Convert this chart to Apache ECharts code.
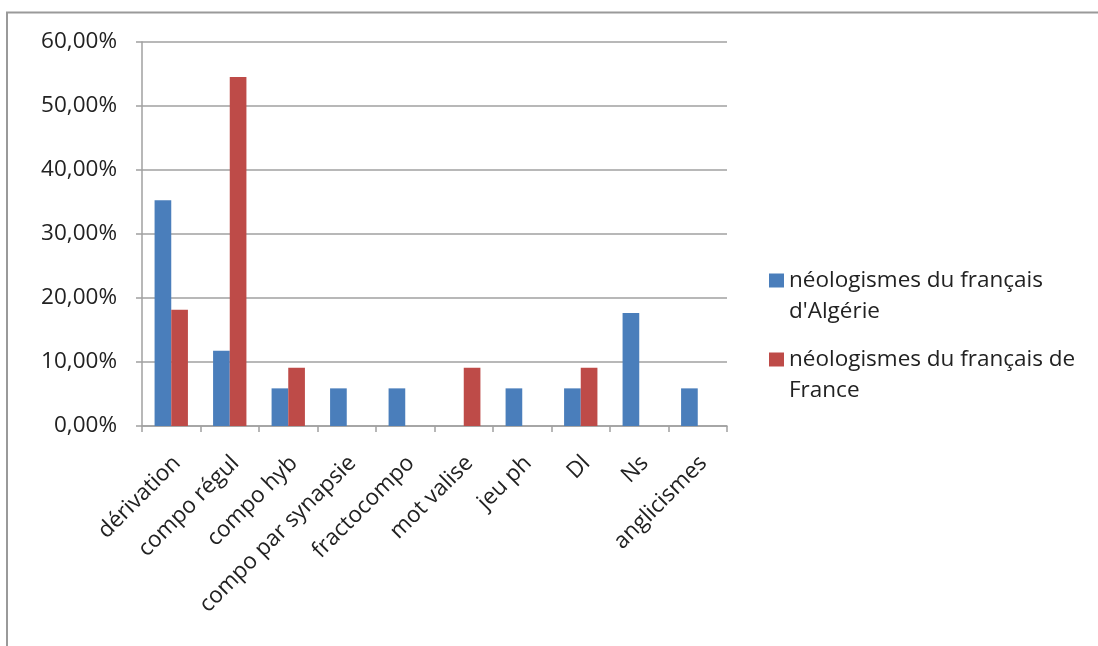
<!DOCTYPE html>
<html>
<head>
<meta charset="utf-8">
<style>
  html, body { margin: 0; padding: 0; background: #ffffff; }
  #chart { width: 1098px; height: 646px; }
</style>
<script src="https://cdn.jsdelivr.net/npm/echarts@6/dist/echarts.min.js"></script>
</head>
<body>
<div id="chart"></div>
<script>
// Procédés de formation des néologismes (part de chaque procédé, en %)
const categories = [
  'dérivation', 'compo régul', 'compo hyb', 'compo par synapsie', 'fractocompo',
  'mot valise', 'jeu ph', 'Dl', 'Ns', 'anglicismes'
];
const algerieValues = [35.29, 11.76, 5.88, 5.88, 5.88, 0, 5.88, 5.88, 17.65, 5.88];
const franceValues  = [18.18, 54.55, 9.09, 0, 0, 9.09, 0, 9.09, 0, 0];
const seriesNames = [
  "néologismes du français d'Algérie",
  'néologismes du français de France'
];
// Legend text wrapped on two lines; the empty first line keeps the
// colour square level with the first line of text.
const legendLabels = [
  "\nnéologismes du français\nd'Algérie",
  '\nnéologismes du français de\nFrance'
];
const yTicks = [0, 10, 20, 30, 40, 50, 60];

const FONT = '"Open Sans", "DejaVu Sans", sans-serif';
const GRAY = '#a0a0a0';
const TEXT = '#222222';

const chart = echarts.init(document.getElementById('chart'), null, { renderer: 'canvas' });

chart.setOption({
  backgroundColor: '#ffffff',
  animation: false,
  graphic: [{
    type: 'rect',
    shape: { x: 7, y: 12.5, width: 1200, height: 800 },
    style: { fill: 'none', stroke: '#9a9a9a', lineWidth: 2 },
    silent: true
  }],
  grid: { left: 142, right: 371, top: 42, bottom: 220, containLabel: false },
  legend: {
    orient: 'vertical',
    left: 769,
    top: 234,
    padding: 0,
    itemGap: -14,
    icon: 'rect',
    itemWidth: 15,
    itemHeight: 14,
    itemStyle: { borderWidth: 0 },
    formatter: name => legendLabels[seriesNames.indexOf(name)],
    textStyle: {
      fontFamily: FONT,
      fontSize: 22.5,
      color: TEXT,
      lineHeight: 31
    },
    data: seriesNames
  },
  xAxis: {
    type: 'category',
    data: categories,
    axisLine: { show: true, lineStyle: { color: GRAY, width: 1.5 } },
    axisTick: { show: true, length: 6, alignWithLabel: false, lineStyle: { color: GRAY, width: 1.5 } },
    axisLabel: {
      rotate: 45,
      interval: 0,
      margin: 28,
      verticalAlign: 'top',
      lineHeight: 16,
      fontFamily: FONT,
      fontSize: 22.5,
      color: TEXT
    },
    splitLine: { show: false }
  },
  yAxis: {
    type: 'value',
    min: yTicks[0],
    max: yTicks[yTicks.length - 1],
    interval: 10,
    axisLine: { show: true, lineStyle: { color: GRAY, width: 1.5 } },
    axisTick: { show: true, length: 6, lineStyle: { color: GRAY, width: 1.5 } },
    axisLabel: {
      margin: 25,
      fontFamily: FONT,
      fontSize: 22.5,
      color: TEXT,
      formatter: v => v.toFixed(2).replace('.', ',') + '%'
    },
    splitLine: { show: true, lineStyle: { color: GRAY, width: 1.5 } }
  },
  series: [
    {
      name: seriesNames[0],
      type: 'bar',
      data: algerieValues,
      barGap: '0%',
      barCategoryGap: '43%',
      itemStyle: { color: '#4a7ebb' }
    },
    {
      name: seriesNames[1],
      type: 'bar',
      data: franceValues,
      barGap: '0%',
      barCategoryGap: '43%',
      itemStyle: { color: '#be4b48' }
    }
  ]
});
</script>
</body>
</html>
